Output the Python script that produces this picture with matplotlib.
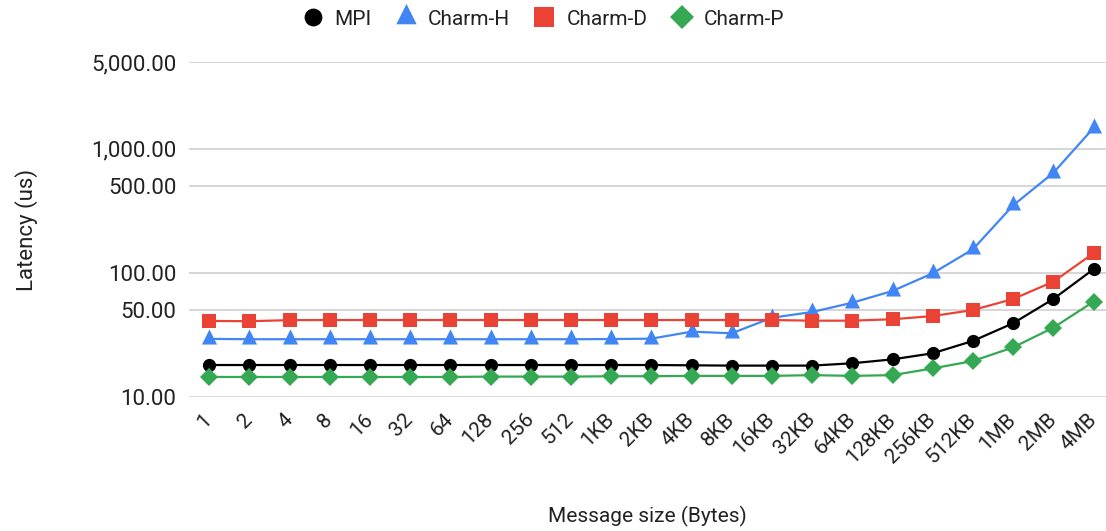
import matplotlib
matplotlib.use("Agg")
import matplotlib.pyplot as plt
from matplotlib.lines import Line2D
from matplotlib.ticker import FixedLocator, FuncFormatter, NullLocator

plt.rcParams['font.family'] = ['Roboto', 'DejaVu Sans']

sizes = ["1", "2", "4", "8", "16", "32", "64", "128", "256", "512",
         "1KB", "2KB", "4KB", "8KB", "16KB", "32KB", "64KB", "128KB",
         "256KB", "512KB", "1MB", "2MB", "4MB"]

mpi = [18.1, 18.1, 18.1, 18.1, 18.1, 18.1, 18.1, 18.1, 18.1, 18.1,
       18.1, 18.1, 18.0, 17.9, 17.9, 17.9, 18.7, 20.1, 22.5, 28.3,
       39.3, 61.6, 107.0]
charm_h = [29.4, 29.2, 29.2, 29.2, 29.2, 29.2, 29.2, 29.2, 29.2, 29.2,
           29.3, 29.5, 33.6, 32.6, 43.5, 48.4, 57.5, 71.5, 99.3, 155.0,
           350.0, 640.0, 1470.0]
charm_d = [41.0, 40.8, 41.6, 41.7, 41.7, 41.7, 41.7, 41.7, 41.7, 41.7,
           41.7, 41.7, 41.7, 41.7, 41.7, 41.2, 41.2, 42.3, 44.9, 50.2,
           61.6, 84.9, 144.0]
charm_p = [14.5, 14.5, 14.5, 14.5, 14.5, 14.5, 14.5, 14.6, 14.6, 14.6,
           14.7, 14.7, 14.8, 14.8, 14.8, 15.0, 14.8, 15.0, 17.0, 19.5,
           25.1, 36.2, 58.6]

y_ticks = [10, 50, 100, 500, 1000, 5000]

series_names = ["MPI", "Charm-H", "Charm-D", "Charm-P"]
colors = ["#000000", "#4285F4", "#EA4335", "#34A853"]

# triangle whose centroid sits on the data point
tri = [(-1.0, -2 / 3), (1.0, -2 / 3), (0.0, 4 / 3)]
markers = ["o", tri, "s", "D"]
msizes = [9.5, 14.5, 10.5, 9.0]

fig = plt.figure(figsize=(11.06, 5.31), dpi=100)
W, H = 1106, 531
ax = fig.add_axes([189 / W, (H - 397) / H, (1106 - 189) / W, (397 - 62) / H])

x = list(range(len(sizes)))
for vals, name, c, m, ms in zip([mpi, charm_h, charm_d, charm_p],
                                 series_names, colors, markers, msizes):
    ax.plot(x, vals, color=c, lw=1.6, marker=m, ms=ms, mew=0, label=name,
            zorder=3)

ax.set_yscale("log")
ax.set_ylim(10, 5000)
ax.set_xlim(-0.5, 22.31)
ax.yaxis.set_major_locator(FixedLocator(y_ticks))
ax.yaxis.set_minor_locator(NullLocator())
ax.yaxis.set_major_formatter(FuncFormatter(lambda v, p: f"{v:,.2f}"))
ax.grid(axis="y", color="#cccccc", lw=1.1, zorder=0)
ax.set_axisbelow(True)
for s in ax.spines.values():
    s.set_visible(False)

ax.set_xticks(x)
ax.set_xticklabels(sizes, rotation=45, ha="right", va="center",
                   rotation_mode="anchor")
ax.tick_params(axis="x", length=0, pad=14, labelsize=15, labelcolor="#222222")
ax.tick_params(axis="y", length=0, pad=9, labelsize=16, labelcolor="#222222")

ax.set_ylabel("Latency (us)", fontsize=16, color="#222222")
ax.yaxis.set_label_coords(-(189 - 38) / 917, 0.5)
fig.text(0.5853, 1 - 516 / H, "Message size (Bytes)", fontsize=15,
         color="#222222", ha="center", va="center")

handles = [Line2D([], [], color=c, marker=m, ls="none", ms=ms * 1.35, mew=0)
           for c, m, ms in zip(colors, markers, msizes)]
fig.legend(handles, series_names, loc="center", bbox_to_anchor=(0.491, 1 - 19 / H),
           ncol=4, frameon=False, fontsize=15, handlelength=1.0,
           handletextpad=0.55, columnspacing=1.15, labelcolor="#222222")

fig.savefig("out.png", dpi=100)
